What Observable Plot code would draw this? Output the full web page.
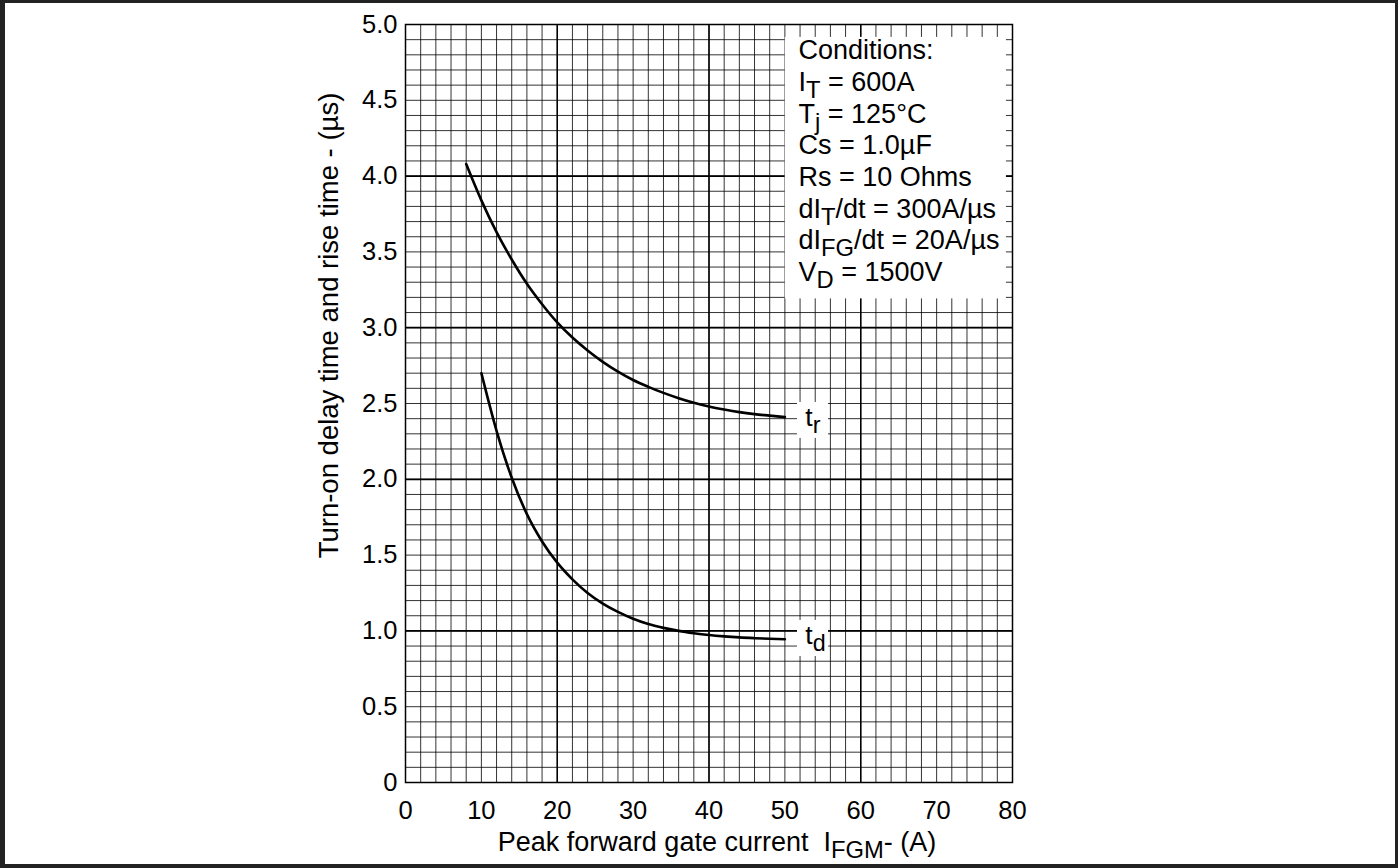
<!DOCTYPE html>
<html>
<head>
<meta charset="utf-8">
<script src="https://cdn.jsdelivr.net/npm/d3@7"></script>
<script src="https://cdn.jsdelivr.net/npm/@observablehq/plot@0.6"></script>
<style>
  html, body { margin: 0; padding: 0; background: #fff; }
  #wrap { position: relative; width: 1398px; height: 868px; overflow: hidden; }
  #wrap svg { position: absolute; left: 0; top: 0; }
  #border { position: absolute; inset: 0; box-sizing: border-box; border-style: solid; border-color: #222;
            border-width: 3px 3px 4px 5px; pointer-events: none; }
  text { white-space: pre; }
</style>
</head>
<body>
<div id="wrap"><div id="border"></div></div>
<script>
// ---- data ----
const trX = [8, 10, 12, 14, 16, 18, 20, 22, 24, 26, 28, 30, 32, 34, 36, 38, 40, 42, 44, 46, 48, 50];
const trY = [4.08, 3.84, 3.63, 3.45, 3.29, 3.155, 3.035, 2.935, 2.85, 2.775, 2.71, 2.655, 2.61, 2.57, 2.535, 2.505, 2.48, 2.46, 2.443, 2.43, 2.42, 2.41];
const tdX = [10, 12, 14, 16, 18, 20, 22, 24, 26, 28, 30, 32, 34, 36, 38, 40, 42, 44, 46, 48, 50];
const tdY = [2.70, 2.32, 2.01, 1.77, 1.59, 1.45, 1.34, 1.25, 1.18, 1.125, 1.08, 1.045, 1.02, 1.0, 0.985, 0.973, 0.964, 0.957, 0.952, 0.948, 0.945];
const xTicks = [0, 10, 20, 30, 40, 50, 60, 70, 80];
const yTicks = [0, 0.5, 1.0, 1.5, 2.0, 2.5, 3.0, 3.5, 4.0, 4.5, 5.0];
const conditionLines = ["Conditions:", "I_{T} = 600A", "T_{j} = 125°C", "Cs = 1.0µF", "Rs = 10 Ohms",
  "dI_{T}/dt = 300A/µs", "dI_{FG}/dt = 20A/µs", "V_{D} = 1500V"];
const seriesLabels = ["t_{r}", "t_{d}"];
const xLabel = "Peak forward gate current  I_{FGM}- (A)";
const yLabel = "Turn-on delay time and rise time - (µs)";

// ---- derived tables ----
const tr = trX.map((x, i) => ({x, y: trY[i]}));
const td = tdX.map((x, i) => ({x, y: tdY[i]}));
const minorX = d3.range(0, 80.001, 2);
const minorY = d3.range(0, 50.001, 1).map(d => d / 10);
const majorX = [20, 40, 60];
const majorY = [1, 2, 3, 4];
const condRows = conditionLines.map((t, i) => ({t, x: 51.8, y: 4.828 - 0.209 * i}));
const labelRows = [
  {t: seriesLabels[0], x: 52.7, y: 2.41, x1: 51.66, x2: 55.75, y1: 2.27, y2: 2.507},
  {t: seriesLabels[1], x: 52.7, y: 0.97, x1: 51.66, x2: 55.75, y1: 0.831, y2: 1.069}
];
const FONT = "'Liberation Sans', Arial, Helvetica, sans-serif";

const plot = Plot.plot({
  width: 1398, height: 868,
  marginLeft: 405, marginRight: 386, marginTop: 24, marginBottom: 86,
  style: {fontFamily: FONT, fontSize: "25px", background: "transparent", color: "#000"},
  x: {domain: [0, 80]},
  y: {domain: [0, 5]},
  marks: [
    Plot.gridX(minorX, {stroke: "#000", strokeOpacity: 0.8, strokeWidth: 1}),
    Plot.gridY(minorY, {stroke: "#000", strokeOpacity: 0.8, strokeWidth: 1}),
    Plot.gridX(majorX, {stroke: "#000", strokeOpacity: 1, strokeWidth: 1.5}),
    Plot.gridY(majorY, {stroke: "#000", strokeOpacity: 1, strokeWidth: 1.7}),
    Plot.rect([{x1: 50.05, x2: 79.2, y1: 3.19, y2: 4.915}], {x1: "x1", x2: "x2", y1: "y1", y2: "y2", fill: "#fff"}),
    Plot.rect(labelRows, {x1: "x1", x2: "x2", y1: "y1", y2: "y2", fill: "#fff"}),
    Plot.frame({stroke: "#000", strokeWidth: 1.5}),
    Plot.line(tr, {x: "x", y: "y", curve: "monotone-x", stroke: "#000", strokeWidth: 2.6}),
    Plot.line(td, {x: "x", y: "y", curve: "monotone-x", stroke: "#000", strokeWidth: 2.6}),
    Plot.text(condRows, {x: "x", y: "y", text: "t", textAnchor: "start", lineAnchor: "middle", fontSize: 27, fill: "#000"}),
    Plot.text(labelRows, {x: "x", y: "y", text: "t", textAnchor: "start", lineAnchor: "middle", fontSize: 26.5, fill: "#000"}),
    Plot.axisX(xTicks, {tickSize: 0, tickPadding: 18, fontSize: 25.5, label: null}),
    Plot.axisY(yTicks, {tickSize: 0, tickPadding: 8, fontSize: 25.5, label: null,
      tickFormat: d => d === 0 ? "0" : d.toFixed(1)}),
    Plot.text([xLabel], {frameAnchor: "bottom", dy: 60, dx: 8, text: d => d, textAnchor: "middle", lineAnchor: "middle", fontSize: 27, fill: "#000"}),
    Plot.text([yLabel], {frameAnchor: "left", dx: -76, dy: -78, rotate: -90, text: d => d, textAnchor: "middle", lineAnchor: "middle", fontSize: 27.5, fill: "#000"})
  ]
});

// subscripts: turn "_{..}" into shifted tspans
d3.select(plot).selectAll("text").each(function() {
  const txt = this.textContent;
  if (!txt.includes("_{")) return;
  const parts = txt.split(/(_\{[^}]*\})/).filter(p => p.length);
  const el = d3.select(this);
  el.text(null);
  let shifted = false;
  parts.forEach(p => {
    const m = p.match(/^_\{([^}]*)\}$/);
    if (m) {
      el.append("tspan").attr("dy", 7).attr("font-size", "0.88em").text(m[1]);
      shifted = true;
    } else {
      const ts = el.append("tspan").text(p);
      if (shifted) { ts.attr("dy", -7); shifted = false; }
    }
  });
});

document.getElementById("wrap").prepend(plot);
</script>
</body>
</html>
